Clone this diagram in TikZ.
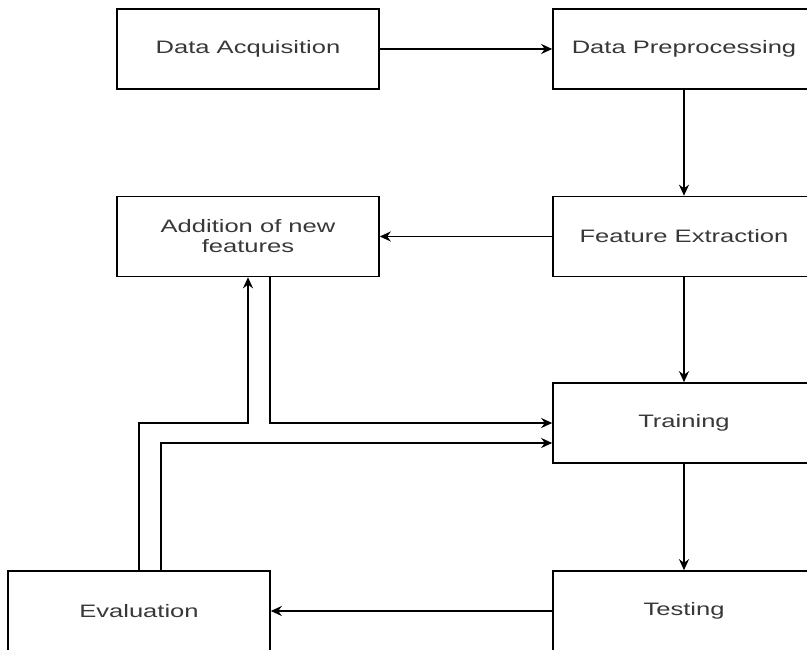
\documentclass[tikz,border=0pt]{standalone}
\usepackage{fontspec}
\newfontfamily\labfont{Liberation Sans}[FakeStretch=1.42]
\usetikzlibrary{arrows.meta}
\tikzset{
  box/.style={draw=black, line width=1.6pt, minimum width=262pt, minimum height=80pt,
    inner sep=0pt, align=center, text=black!78, font=\labfont\fontsize{18}{20}\selectfont},
  arr/.style={draw=black, line width=1.8pt, -{Stealth[length=11pt,width=10pt]}}
}
\begin{document}
\begin{tikzpicture}[x=1pt,y=-1pt]
\useasboundingbox (0,0) rectangle (807,650);
\clip (0,0) rectangle (807,650);
\fill[white] (0,0) rectangle (807,650);
\node[box] (DA) at (248,49) {Data Acquisition};
\node[box] (DP) at (684,49) {Data Preprocessing};
\node[box] (AN) at (248,236.5) {Addition of new\\features};
\node[box] (FE) at (684,236.5) {Feature Extraction};
\node[box] (TR) at (684,423) {Training};
\node[box] (EV) at (139,611) {Evaluation};
\node[box] (TE) at (684,611) {Testing};
\draw[arr] (DA) -- (DP);
\draw[arr] (DP) -- (FE);
\draw[arr] (FE) -- (AN);
\draw[arr] (FE) -- (TR);
\draw[arr] (TR) -- (TE);
\draw[arr] (TE) -- (EV);
\coordinate (a2) at ([xshift=22pt]AN.south);
\draw[arr] (a2) |- (TR.west);
\coordinate (c1) at (AN.south |- TR.west);
\draw[arr] (EV.north) |- (c1) -- (AN.south);
\coordinate (e2) at ([xshift=22pt]EV.north);
\coordinate (t2) at ([yshift=-20pt]TR.west);
\draw[arr] (e2) |- (t2);
\end{tikzpicture}
\end{document}
